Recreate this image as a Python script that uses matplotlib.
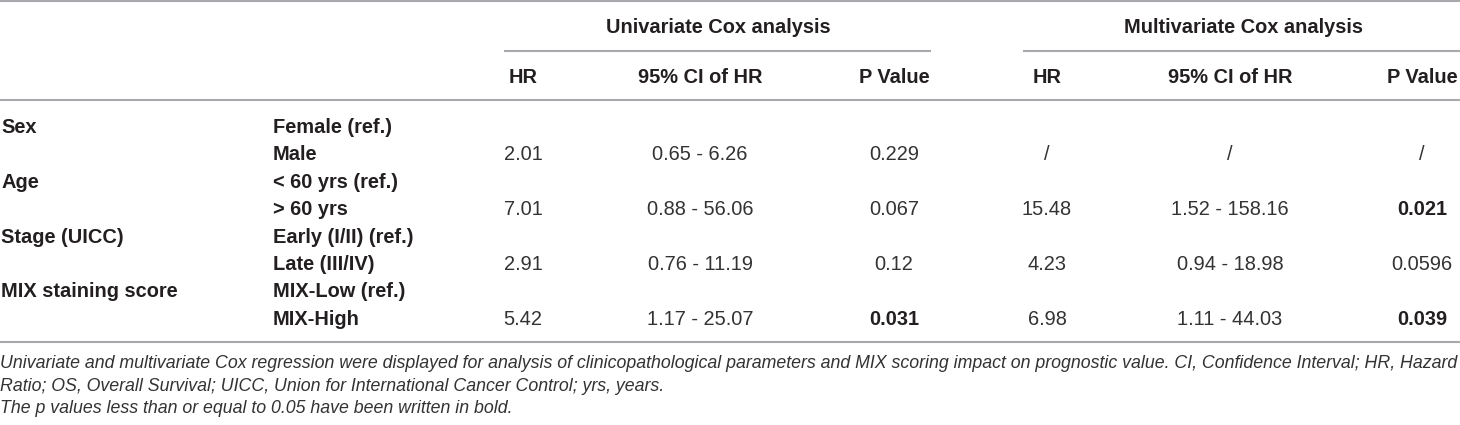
import matplotlib
matplotlib.use("Agg")
import matplotlib.pyplot as plt

# table content
variables = ["Sex", "Age", "Stage (UICC)", "MIX staining score"]
ref_levels = ["Female (ref.)", "< 60 yrs (ref.)", "Early (I/II) (ref.)", "MIX-Low (ref.)"]
cmp_levels = ["Male", "> 60 yrs", "Late (III/IV)", "MIX-High"]

uni_hr = ["2.01", "7.01", "2.91", "5.42"]
uni_ci = ["0.65 - 6.26", "0.88 - 56.06", "0.76 - 11.19", "1.17 - 25.07"]
uni_p = ["0.229", "0.067", "0.12", "0.031"]

multi_hr = ["/", "15.48", "4.23", "6.98"]
multi_ci = ["/", "1.52 - 158.16", "0.94 - 18.98", "1.11 - 44.03"]
multi_p = ["/", "0.021", "0.0596", "0.039"]

groups = ["Univariate Cox analysis", "Multivariate Cox analysis"]
sub_headers = ["HR", "95% CI of HR", "P Value"]

footnotes = [
    "Univariate and multivariate Cox regression were displayed for analysis of clinicopathological "
    "parameters and MIX scoring impact on prognostic value. CI, Confidence Interval; HR, Hazard",
    "Ratio; OS, Overall Survival; UICC, Union for International Cancer Control; yrs, years.",
    "The p values less than or equal to 0.05 have been written in bold.",
]

W, H = 1460, 425
DPI = 100
FS = 20 * 72 / DPI          # ~20 px text
FS_NOTE = 17.7 * 72 / DPI
TXT = "#231f20"
VAL = "#333333"
RULE = "#a7a9ac"

plt.rcParams['font.family'] = ['Liberation Sans', 'DejaVu Sans']

fig = plt.figure(figsize=(W / DPI, H / DPI), dpi=DPI)
ax = fig.add_axes([0, 0, 1, 1])
ax.set_xlim(0, W)
ax.set_ylim(H, 0)
ax.axis("off")

# column layout (pixels)
x_var = 1
x_level = 273
col_x = [[523, 700, 894], [1047, 1230, 1422]]
group_x = [718, 1243]
group_rule = [(504, 931), (1023, W)]

# rules
ax.hlines([1, 100, 342], 0, W, color=RULE, lw=1.5)
for x0, x1 in group_rule:
    ax.hlines(50.5, x0, x1, color=RULE, lw=1.5)

# headers
for gx, g in zip(group_x, groups):
    ax.text(gx, 33, g, ha="center", va="baseline", fontsize=FS, fontweight="bold", color=TXT)
for cols in col_x:
    for cx, s in zip(cols, sub_headers):
        ax.text(cx, 83, s, ha="center", va="baseline", fontsize=FS, fontweight="bold", color=TXT)

# body
y0, step = 133, 27.4
for i, var in enumerate(variables):
    y_ref = y0 + step * 2 * i
    y_cmp = y_ref + step
    ax.text(x_var, y_ref, var, ha="left", va="baseline", fontsize=FS, fontweight="bold", color=TXT)
    ax.text(x_level, y_ref, ref_levels[i], ha="left", va="baseline", fontsize=FS, fontweight="bold", color=TXT)
    ax.text(x_level, y_cmp, cmp_levels[i], ha="left", va="baseline", fontsize=FS, fontweight="bold", color=TXT)
    for cols, vals in zip(col_x, [(uni_hr, uni_ci, uni_p), (multi_hr, multi_ci, multi_p)]):
        hr, ci, p = vals[0][i], vals[1][i], vals[2][i]
        bold = p != "/" and float(p) <= 0.05
        ax.text(cols[0], y_cmp, hr, ha="center", va="baseline", fontsize=FS, color=VAL)
        ax.text(cols[1], y_cmp, ci, ha="center", va="baseline", fontsize=FS, color=VAL)
        ax.text(cols[2], y_cmp, p, ha="center", va="baseline", fontsize=FS, color=TXT if bold else VAL,
                fontweight="bold" if bold else "normal")

# footnotes
for j, (yb, note) in enumerate(zip([368, 391, 413], footnotes)):
    ax.text(0, yb, note, ha="left", va="baseline", fontsize=FS_NOTE,
            fontstyle="italic", color=VAL)

fig.savefig("out.png", dpi=DPI)
